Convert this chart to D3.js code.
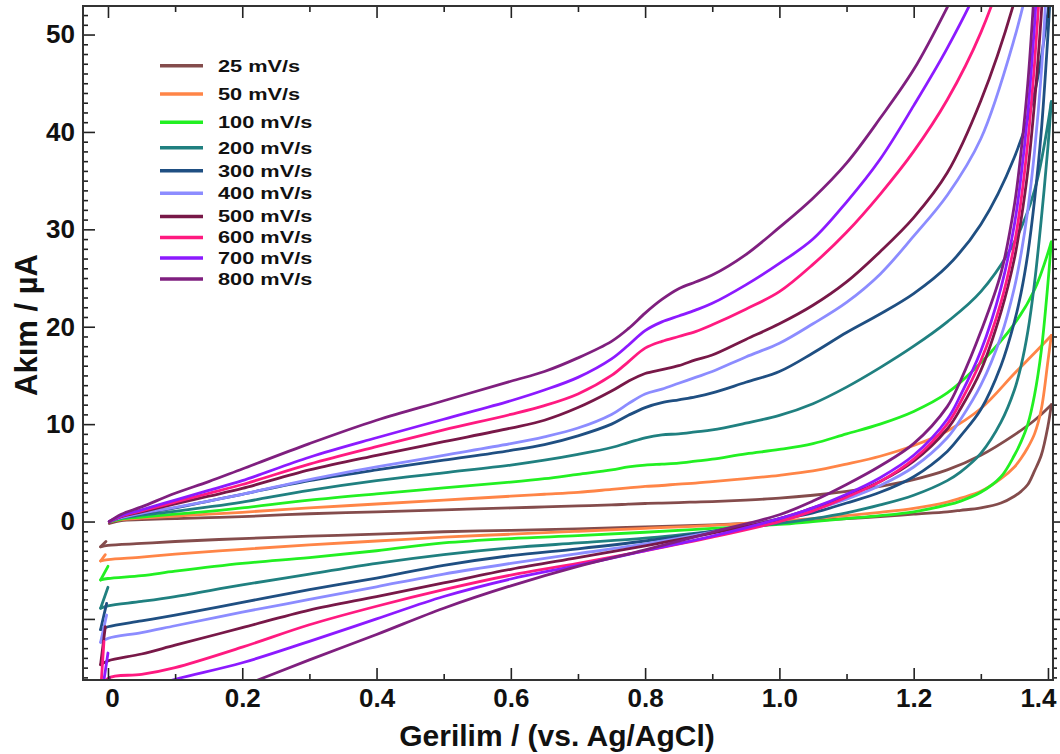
<!DOCTYPE html>
<html><head><meta charset="utf-8">
<script src="https://cdn.jsdelivr.net/npm/d3@7"></script>
<style>
html,body{margin:0;padding:0;background:#fff;}
svg{display:block;font-family:"Liberation Sans",Arial,sans-serif;font-weight:bold;}
</style></head><body>
<svg id="chart" width="1060" height="754"></svg>
<script>
// ---------- data ----------
const scanRates = ["25 mV/s","50 mV/s","100 mV/s","200 mV/s","300 mV/s","400 mV/s","500 mV/s","600 mV/s","700 mV/s","800 mV/s"];
const seriesColors = ["#844c4c","#ff8547","#22f022","#208080","#1f4f82","#8c8cff","#781848","#ff1a80","#8c1aff","#7f1f7f"];

// forward (anodic) scan potentials, V
const fwdE = [0.002,0.02,0.05,0.1,0.15,0.2,0.3,0.4,0.5,0.6,0.65,0.7,0.75,0.775,0.8,0.825,0.85,0.875,0.9,0.95,1.0,1.05,1.1,1.15,1.2,1.25,1.3,1.35,1.38,1.405];
const fwd25  = [-0.2,0.1,0.2,0.3,0.4,0.5,0.8,1.0,1.2,1.4,1.5,1.6,1.7,1.78,1.85,1.9,1.95,2.0,2.05,2.2,2.4,2.7,3.1,3.6,4.3,5.3,6.8,8.9,10.4,12.0];
const fwd50  = [0,0.2,0.35,0.55,0.75,0.95,1.4,1.8,2.2,2.6,2.8,3.0,3.3,3.45,3.6,3.7,3.85,3.95,4.1,4.4,4.75,5.2,5.9,6.7,7.8,9.3,11.6,15.2,17.3,19.1];
const fwd100 = [0,0.25,0.45,0.75,1.05,1.4,2.2,2.85,3.45,4.05,4.4,4.85,5.3,5.6,5.8,5.9,6.0,6.2,6.4,6.95,7.4,8.0,9.0,10.0,11.3,13.2,16.3,20.3,23.8,28.7];
const fwd200 = [0,0.35,0.65,1.05,1.5,2.0,3.2,4.2,5.0,5.8,6.3,6.9,7.6,8.1,8.6,8.9,9.0,9.2,9.4,10.1,10.9,12.1,13.8,15.8,18.0,20.5,23.6,28.7,34.0,43.1];
const fwd300 = [0,0.4,0.8,1.4,2.1,2.8,4.2,5.3,6.3,7.3,7.9,8.8,10.0,10.9,11.7,12.2,12.5,12.8,13.2,14.3,15.4,17.3,19.4,21.3,23.4,26.2,30.5,37.4,44.0,55.0];
const fwd400 = [0,0.4,0.85,1.45,2.1,2.8,4.3,5.6,6.8,8.0,8.7,9.6,11.0,12.1,13.1,13.6,14.2,14.8,15.4,16.9,18.3,20.3,22.5,25.4,29.3,33.5,39.3,49.6,58,66];
const fwd500 = [0,0.5,1.0,1.8,2.6,3.4,5.3,6.8,8.2,9.6,10.4,11.7,13.4,14.4,15.2,15.6,16.0,16.6,17.1,18.7,20.3,22.2,24.6,27.7,31.2,35.8,43.2,53.4,62,72];
const fwd600 = [0,0.55,1.1,2.0,2.9,3.8,5.9,7.7,9.4,11.0,11.9,13.1,15.0,16.4,17.8,18.5,19.0,19.5,20.2,21.8,23.6,26.4,29.7,33.6,38.0,43.3,50.2,60,68,78];
const fwd700 = [0,0.6,1.2,2.2,3.2,4.2,6.6,8.6,10.5,12.4,13.5,14.8,16.7,18.1,19.6,20.5,21.1,21.7,22.4,24.3,26.5,29.0,32.8,37.2,42.7,48.6,55.5,65,74,85];
const fwd800 = [0,0.75,1.5,2.9,4.1,5.4,8.0,10.4,12.4,14.4,15.4,16.8,18.5,19.8,21.4,22.8,23.9,24.6,25.3,27.4,30.2,33.2,36.8,41.4,46.4,52.8,60,70,80,92];

// reverse (cathodic) scan potentials, V
const revE = [1.405,1.4,1.39,1.38,1.37,1.36,1.35,1.33,1.3,1.27,1.25,1.2,1.15,1.1,1.05,1.0,0.9,0.8,0.7,0.6,0.5,0.4,0.3,0.2,0.1,0.05,0,-0.011];
const rev25  = [12.0,9.8,6.8,5.2,3.8,3.1,2.6,1.9,1.4,1.15,1.0,0.75,0.5,0.3,0.1,-0.05,-0.35,-0.55,-0.75,-0.9,-1.05,-1.3,-1.5,-1.75,-2.05,-2.25,-2.45,-2.6];
const rev50  = [19.1,16.5,11.5,9.0,7.6,6.5,5.6,4.4,3.1,2.4,2.0,1.35,0.95,0.6,0.3,0.05,-0.4,-0.7,-1.0,-1.3,-1.6,-2.0,-2.4,-2.85,-3.35,-3.65,-3.9,-4.05];
const rev100 = [28.7,24.5,17.5,13.0,10.0,8.2,6.8,4.6,3.0,2.1,1.7,1.0,0.6,0.3,0.0,-0.3,-0.7,-1.1,-1.45,-1.75,-2.2,-3.0,-3.7,-4.3,-5.1,-5.55,-5.85,-6.0];
const rev200 = [43.1,38.5,31.0,24.5,19.5,16.0,13.5,10.2,7.0,5.1,4.2,2.7,1.7,0.9,0.3,-0.2,-1.0,-1.7,-2.2,-2.7,-3.4,-4.3,-5.4,-6.5,-7.7,-8.2,-8.65,-8.9];
const rev300 = [56,50,40,33,27.5,23.5,20.5,16.0,11.5,8.8,7.2,4.6,3.0,1.9,0.9,0.2,-1.0,-2.0,-2.8,-3.5,-4.5,-5.8,-7.0,-8.3,-9.6,-10.2,-10.8,-11.1];
const rev400 = [66,58,46,38,32,27.5,24,19,14,10.5,8.6,5.6,3.7,2.3,1.2,0.3,-1.1,-2.3,-3.3,-4.3,-5.4,-6.7,-8.0,-9.3,-10.7,-11.4,-12.0,-12.4];
const rev500 = [72,64,52,43,36,31,27,21.5,15.5,11.6,9.5,6.2,4.1,2.6,1.4,0.3,-1.2,-2.5,-3.7,-4.9,-6.3,-7.7,-9.1,-10.9,-12.7,-13.6,-14.3,-14.7];
const rev600 = [78,70,57,47,39,33,28.5,22.5,16.5,12.3,10.0,6.4,4.1,2.5,1.1,0.0,-1.6,-3.0,-4.3,-5.5,-7.0,-8.7,-10.6,-12.9,-15.0,-15.7,-16.1,-17.5];
const rev700 = [85,76,62,51,42,35.5,30.5,24,17.5,13.0,10.5,6.8,4.5,2.8,1.4,0.3,-1.5,-3.0,-4.5,-5.9,-7.7,-10.0,-12.3,-14.5,-16.2,-17.2,-18.2,-18.6];
const rev800 = [92,82,67,55,45,38,32.5,25.5,19.5,14.5,11.8,8.0,5.7,3.8,2.1,0.7,-1.1,-2.9,-4.6,-6.6,-8.9,-11.6,-14.2,-16.9,-19.5,-20.7,-21.8,-22.1];

// start of the next sweep after the negative turning point
const hookE = [-0.003,-0.004,0.0,0.0,-0.002,-0.002,-0.004,-0.006,0.0,0.002];
const hookI = [-2.05,-3.4,-4.6,-6.75,-8.4,-9.6,-10.8,-12.3,-13.5,-16.0];

const yTickValues = [-10,0,10,20,30,40,50];
const xTickValues = [0,0.2,0.4,0.6,0.8,1.0,1.2,1.4];
const xLabel = "Gerilim / (vs. Ag/AgCl)";
const yLabel = "Akım / µA";

// legend layout (pixel rows)
const legendRowY = [65.7,94,122.3,147.7,170.7,193.3,216.5,237.5,258,279];

const fwdAll = [fwd25,fwd50,fwd100,fwd200,fwd300,fwd400,fwd500,fwd600,fwd700,fwd800];
const revAll = [rev25,rev50,rev100,rev200,rev300,rev400,rev500,rev600,rev700,rev800];

// ---------- layout ----------
const svg = d3.select("#chart");
const L = 83, R = 1053, T = 6, B = 680;
const x = d3.scaleLinear().domain([-0.0372, 1.4075]).range([L, R]);
const y = d3.scaleLinear().domain([-16.27, 52.93]).range([B, T]);

svg.append("defs").append("clipPath").attr("id","plotclip")
  .append("rect").attr("x",L).attr("y",T).attr("width",R-L).attr("height",B-T);

const line = d3.line().x(d=>x(d[0])).y(d=>y(d[1])).curve(d3.curveCatmullRom.alpha(0.5));
const straight = d3.line().x(d=>x(d[0])).y(d=>y(d[1]));

const plot = svg.append("g").attr("clip-path","url(#plotclip)");
scanRates.forEach((name,i)=>{
  const g = plot.append("g");
  const f = fwdE.map((e,k)=>[e, fwdAll[i][k]]);
  const r = revE.map((e,k)=>[e, revAll[i][k]]);
  const last = [revE[revE.length-1], revAll[i][revE.length-1]];
  const h = [last, [hookE[i], hookI[i]]];
  [line(f), line(r), straight(h)].forEach(d=>{
    g.append("path").attr("d",d).attr("fill","none")
      .attr("stroke",seriesColors[i]).attr("stroke-width",2.8)
      .attr("stroke-linejoin","round").attr("stroke-linecap","round");
  });
});

// ---------- axes ----------
const tickColor = "#222";
function styleAxis(g){
  g.select(".domain").remove();
  g.selectAll(".tick line").attr("stroke",tickColor).attr("stroke-width",1.6);
  g.selectAll("text").attr("fill","#111").attr("font-size",26)
    .attr("font-family",'"Liberation Sans",Arial,sans-serif').attr("font-weight","bold");
}
const xMinor = d3.range(0,15).map(d=>d/10).filter(v=>Math.round(v*10)%2!==0);
const yMinor = d3.range(-16,53).filter(v=>v%10!==0);

svg.append("g").attr("transform",`translate(0,${B})`)
  .call(d3.axisBottom(x).tickValues(xTickValues).tickSize(-12).tickPadding(9))
  .call(styleAxis)
  .call(g=>g.selectAll("text").text(d=> d===0 ? "0" : d3.format(".1f")(d))
     .attr("dx", d=> d===0 ? 4 : (d>1.35 ? -10 : 0)));
svg.append("g").attr("transform",`translate(0,${B})`)
  .call(d3.axisBottom(x).tickValues(xMinor).tickSize(-6).tickFormat("")).call(styleAxis);
svg.append("g").attr("transform",`translate(0,${T})`)
  .call(d3.axisTop(x).tickValues(xTickValues).tickSize(-12).tickFormat("")).call(styleAxis);
svg.append("g").attr("transform",`translate(0,${T})`)
  .call(d3.axisTop(x).tickValues(xMinor).tickSize(-6).tickFormat("")).call(styleAxis);

svg.append("g").attr("transform",`translate(${L},0)`)
  .call(d3.axisLeft(y).tickValues(yTickValues).tickSize(-12).tickPadding(8).tickFormat(d=> d>=0 ? d : ""))
  .call(styleAxis);
svg.append("g").attr("transform",`translate(${L},0)`)
  .call(d3.axisLeft(y).tickValues(yMinor).tickSize(-5).tickFormat("")).call(styleAxis);
svg.append("g").attr("transform",`translate(${R},0)`)
  .call(d3.axisRight(y).tickValues(yTickValues).tickSize(7).tickFormat("")).call(styleAxis);
svg.append("g").attr("transform",`translate(${R},0)`)
  .call(d3.axisRight(y).tickValues(yMinor).tickSize(4).tickFormat("")).call(styleAxis);

svg.append("rect").attr("x",L).attr("y",T).attr("width",R-L).attr("height",B-T)
  .attr("fill","none").attr("stroke","#333").attr("stroke-width",2);

// titles
svg.append("text").attr("x",557).attr("y",746).attr("text-anchor","middle")
  .attr("font-size",30).attr("fill","#111").text(xLabel);
svg.append("text").attr("transform","translate(37,325) rotate(-90)").attr("text-anchor","middle")
  .attr("font-size",31).attr("fill","#111").text(yLabel);

// legend
const leg = svg.append("g");
scanRates.forEach((name,i)=>{
  const yy = legendRowY[i];
  leg.append("line").attr("x1",160).attr("x2",203).attr("y1",yy).attr("y2",yy)
    .attr("stroke",seriesColors[i]).attr("stroke-width",3.5);
  leg.append("text").attr("transform",`translate(218,${yy}) scale(1.28,1)`).attr("dy","0.35em")
    .attr("font-size",17).attr("fill","#111").text(name);
});
</script>
</body></html>
